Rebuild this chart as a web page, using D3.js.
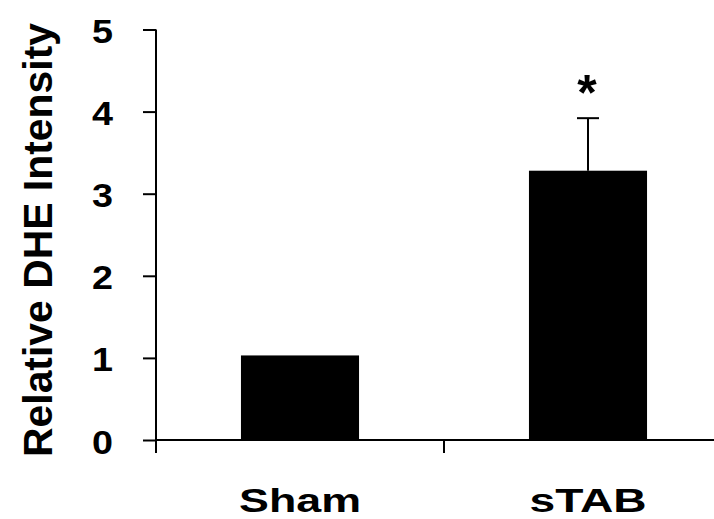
<!DOCTYPE html>
<html>
<head>
<meta charset="utf-8">
<script src="https://cdn.jsdelivr.net/npm/d3@7"></script>
<style>
  html, body { margin: 0; padding: 0; background: #fff; }
  svg { display: block; }
  text { font-family: "Liberation Sans", Arial, sans-serif; font-weight: bold; fill: #000; }
</style>
</head>
<body>
<svg id="chart" width="714" height="519"></svg>
<script>
const categories = ["Sham", "sTAB"];
const values = [1.03, 3.28];
const errors = [0, 0.64];
const significance = ["", "*"];
const yTicks = [0, 1, 2, 3, 4, 5];
const yLabel = "Relative DHE Intensity";

(function () {
const svg = d3.select("#chart");
const W = 714, H = 519;
const pLeft = 156, pRight = 732, pTop = 29.5, pBottom = 440;

const x = d3.scaleBand().domain(categories).range([pLeft, pRight])
  .paddingInner(0.59).paddingOuter(0.295);
const y = d3.scaleLinear().domain([0, 5]).range([pBottom, pTop]);

// bars
svg.selectAll("rect.bar").data(categories).enter().append("rect")
  .attr("class", "bar")
  .attr("x", d => x(d))
  .attr("width", x.bandwidth())
  .attr("y", (d, i) => y(values[i]))
  .attr("height", (d, i) => y(0) - y(values[i]))
  .attr("fill", "#000");

// error bars
const capW = 22;
categories.forEach((c, i) => {
  if (errors[i] <= 0) return;
  const cx = x(c) + x.bandwidth() / 2;
  svg.append("line").attr("x1", cx).attr("x2", cx)
    .attr("y1", y(values[i])).attr("y2", y(values[i] + errors[i]))
    .attr("stroke", "#000").attr("stroke-width", 2);
  svg.append("line").attr("x1", cx - capW / 2).attr("x2", cx + capW / 2)
    .attr("y1", y(values[i] + errors[i])).attr("y2", y(values[i] + errors[i]))
    .attr("stroke", "#000").attr("stroke-width", 2);
  if (significance[i]) {
    svg.append("text").attr("x", cx - 1).attr("y", y(values[i] + errors[i]) - 8)
      .attr("text-anchor", "middle").style("font-size", "50px")
      .text(significance[i]);
  }
});

// y axis
const yAxis = d3.axisLeft(y).tickValues(yTicks).tickFormat(d3.format("d"))
  .tickSize(13).tickSizeOuter(0).tickPadding(30);
const gy = svg.append("g").attr("transform", `translate(${pLeft},0)`).call(yAxis);
gy.select(".domain").remove();
gy.selectAll(".tick line").attr("stroke", "#000").attr("stroke-width", 2);
gy.selectAll(".tick text").attr("dy", null).attr("y", 13)
  .style("font-size", "33px").attr("fill", "#000")
  .attr("textLength", 21).attr("lengthAdjust", "spacingAndGlyphs");
svg.append("line").attr("x1", pLeft).attr("x2", pLeft)
  .attr("y1", pTop).attr("y2", pBottom + 13)
  .attr("stroke", "#000").attr("stroke-width", 2);

// x axis
svg.append("line").attr("x1", pLeft).attr("x2", W)
  .attr("y1", pBottom).attr("y2", pBottom)
  .attr("stroke", "#000").attr("stroke-width", 2);
const boundaries = categories.slice(1).map(c => x(c) - (x.step() - x.bandwidth()) / 2);
svg.selectAll("line.xtick").data(boundaries).enter().append("line")
  .attr("class", "xtick")
  .attr("x1", d => d).attr("x2", d => d)
  .attr("y1", pBottom).attr("y2", pBottom + 13)
  .attr("stroke", "#000").attr("stroke-width", 2);

const labelWidths = [122, 117];
svg.selectAll("text.xlab").data(categories).enter().append("text")
  .attr("class", "xlab")
  .attr("x", (d, i) => x(d) + x.bandwidth() / 2 - labelWidths[i] / 2)
  .attr("y", 512)
  .style("font-size", "33px")
  .attr("textLength", (d, i) => labelWidths[i])
  .attr("lengthAdjust", "spacingAndGlyphs")
  .text(d => d);

// y label
svg.append("text")
  .attr("transform", `translate(52,${(23 + 457) / 2}) rotate(-90)`)
  .attr("x", -217)
  .style("font-size", "41px")
  .attr("textLength", 434)
  .attr("lengthAdjust", "spacingAndGlyphs")
  .text(yLabel);
})();
</script>
</body>
</html>
